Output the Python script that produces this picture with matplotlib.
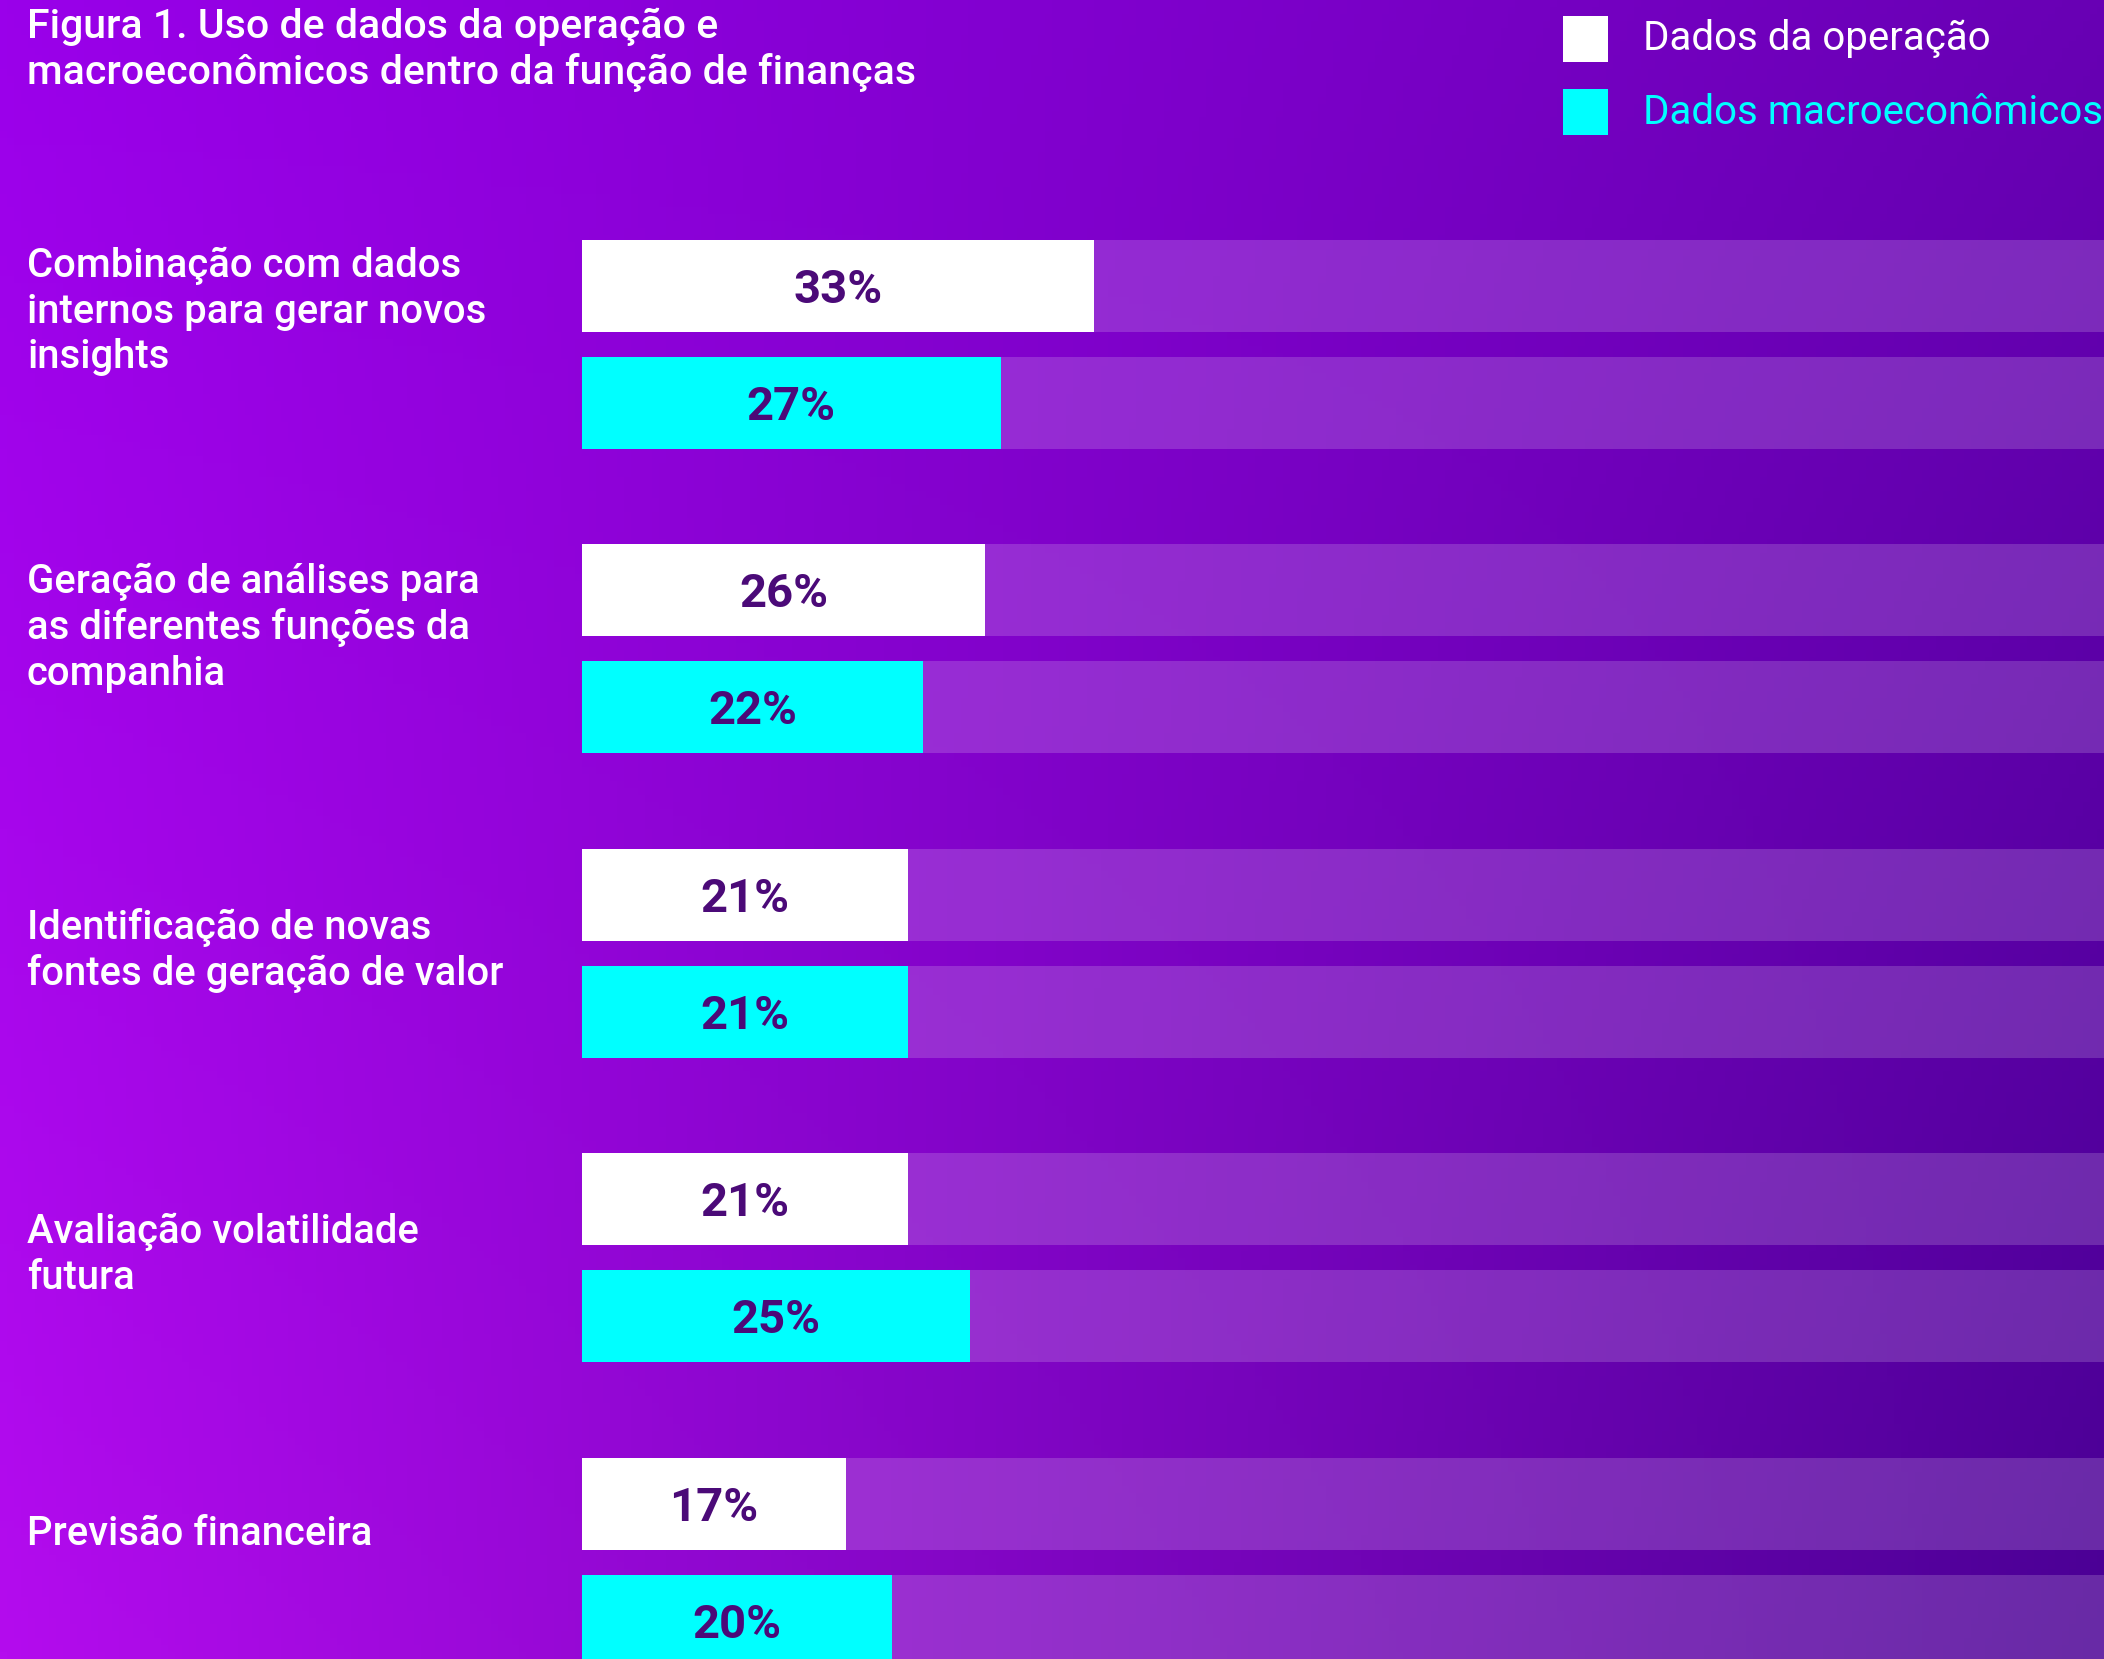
import numpy as np
import matplotlib
matplotlib.use("Agg")
import matplotlib.pyplot as plt
from matplotlib.colors import to_rgb
from matplotlib.patches import Rectangle
import matplotlib.transforms as mtransforms

plt.rcParams['font.family'] = ['Roboto', 'DejaVu Sans']

# data
categories = [
    "Combinação com dados\ninternos para gerar novos\ninsights",
    "Geração de análises para\nas diferentes funções da\ncompanhia",
    "Identificação de novas\nfontes de geração de valor",
    "Avaliação volatilidade\nfutura",
    "Previsão financeira",
]
operacao = [33, 26, 21, 21, 17]
macro = [27, 22, 21, 25, 20]
series_names = ["Dados da operação", "Dados macroeconômicos"]
title = "Figura 1. Uso de dados da operação e\nmacroeconômicos dentro da função de finanças"

# layout / style
W, H = 2104, 1659
pitch = 304.5
first_center = 0.939
offset = 0.384
bar_h = 0.302
label_shift = [-0.108, -0.070, -0.010, -0.010, -0.093]
c_white = "#FFFFFF"
c_cyan = "#00FFFF"
c_value = "#4B0A78"

fig = plt.figure(figsize=(W / 100, H / 100), dpi=100)

# background gradient
bg = fig.add_axes([0, 0, 1, 1])
tl, tr = np.array(to_rgb("#9A00EA")), np.array(to_rgb("#6800B4"))
bl, br = np.array(to_rgb("#B40CEE")), np.array(to_rgb("#4A0094"))
u = np.linspace(0, 1, 300)[None, :, None]
v = np.linspace(0, 1, 240)[:, None, None]
grad = (1 - v) * ((1 - u) * tl + u * tr) + v * ((1 - u) * bl + u * br)
bg.imshow(grad, aspect='auto', extent=[0, 1, 0, 1], origin='upper')
bg.set_axis_off()

ax = fig.add_axes([582 / W, 0, 1 - 582 / W, 1])
ax.patch.set_alpha(0)
n = len(categories)
y_op = np.arange(n) + first_center
y_mc = y_op + offset

ax.barh(y_op, [100] * n, height=bar_h, color="white", alpha=0.17, left=0, linewidth=0)
ax.barh(y_mc, [100] * n, height=bar_h, color="white", alpha=0.17, left=0, linewidth=0)
ax.barh(y_op, operacao, height=bar_h, color=c_white, linewidth=0)
ax.barh(y_mc, macro, height=bar_h, color=c_cyan, linewidth=0)

for y, val in zip(y_op, operacao):
    ax.text(val / 2, y + 0.012, f"{val}%", ha='center', va='center', color=c_value,
            fontsize=34, fontweight='bold')
for y, val in zip(y_mc, macro):
    ax.text(val / 2, y + 0.012, f"{val}%", ha='center', va='center', color=c_value,
            fontsize=34, fontweight='bold')

ax.set_xlim(0, (W - 582) / 15.5)
ax.set_ylim(H / pitch, 0)
ax.set_axis_off()

trans = mtransforms.blended_transform_factory(fig.transFigure, ax.transData)
for i, cat in enumerate(categories):
    yc = (y_op[i] - bar_h / 2 + y_mc[i] + bar_h / 2) / 2 + label_shift[i]
    ax.text(27 / W, yc, cat, transform=trans, ha='left', va='center',
            color='white', fontsize=28.8, fontweight='medium', linespacing=1.24)

fig.text(27 / W, 1 - 50 / H, title, ha='left', va='center', color='white',
         fontsize=29.5, fontweight='medium', linespacing=1.24)

# legend
for k, (name, col) in enumerate(zip(series_names, [c_white, c_cyan])):
    top = 16 + k * 73
    fig.add_artist(Rectangle((1563 / W, 1 - (top + 46) / H), 45 / W, 46 / H,
                             transform=fig.transFigure, color=col, linewidth=0))
    fig.text(1643 / W, 1 - (top + 23) / H, name, ha='left', va='center',
             color=col, fontsize=29)

fig.savefig("out.png", dpi=100)
